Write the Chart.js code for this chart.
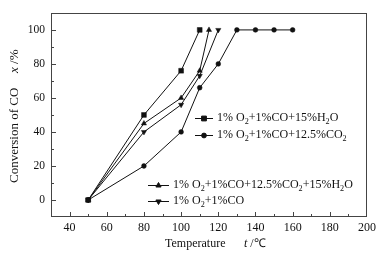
<!DOCTYPE html>
<html><head><meta charset="utf-8">
<script src="https://cdn.jsdelivr.net/npm/chart.js@4"></script>
<style>html,body{margin:0;padding:0;background:#fff}canvas{display:block}</style>
</head><body>
<canvas id="c" width="384" height="256"></canvas>
<script>
// ---- data ----
const labelH2O = "1% O_2+1%CO+15%H_2O";
const tempsH2O = [50, 80, 100, 110];
const convH2O  = [0, 50, 76, 100];

const labelCO2 = "1% O_2+1%CO+12.5%CO_2";
const tempsCO2 = [50, 80, 100, 110, 120, 130, 140, 150, 160];
const convCO2  = [0, 20, 40, 66, 80, 100, 100, 100, 100];

const labelMix = "1% O_2+1%CO+12.5%CO_2+15%H_2O";
const tempsMix = [50, 80, 100, 110, 115];
const convMix  = [0, 45, 60, 76, 100];

const labelDry = "1% O_2+1%CO";
const tempsDry = [50, 80, 100, 110, 120];
const convDry  = [0, 40, 56, 73, 100];

const xTicks = [40, 60, 80, 100, 120, 140, 160, 180, 200];
const yTicks = [0, 20, 40, 60, 80, 100];
const xTitle = ["Temperature", "t", " /℃"];
const yTitle = ["Conversion of CO", "x", " /%"];

const FONT = "'Liberation Serif','Times New Roman',serif";
const INK = '#111';

function pts(xs, ys) { return xs.map((x, i) => ({x, y: ys[i]})); }

const styles = {
  H2O: {pointStyle: 'rect', radius: 3.4, rotation: 0},
  CO2: {pointStyle: 'circle', radius: 2.4, rotation: 0},
  Mix: {pointStyle: 'triangle', radius: 3.0, rotation: 0},
  Dry: {pointStyle: 'triangle', radius: 3.0, rotation: 180}
};

function ds(label, xs, ys, st) {
  return {
    label, data: pts(xs, ys), showLine: true,
    borderColor: INK, backgroundColor: INK, borderWidth: 1,
    pointStyle: st.pointStyle, pointRadius: st.radius, pointRotation: st.rotation,
    pointBackgroundColor: INK, pointBorderColor: INK, pointBorderWidth: 0.5
  };
}

function drawRich(ctx, str, x, y, size) {
  const parts = str.split(/_(\w)/);
  let cx = x;
  parts.forEach((p, i) => {
    if (!p) return;
    const sub = i % 2 === 1;
    ctx.font = (sub ? size * 0.68 : size) + 'px ' + FONT;
    ctx.fillText(p, cx, sub ? y + size * 0.28 : y);
    cx += ctx.measureText(p).width;
  });
  return cx;
}

const legendItems = [
  {label: labelH2O, st: styles.H2O, x: 195, y: 118},
  {label: labelCO2, st: styles.CO2, x: 195, y: 135},
  {label: labelMix, st: styles.Mix, x: 148, y: 185},
  {label: labelDry, st: styles.Dry, x: 148, y: 201}
];

const deco = {
  id: 'deco',
  afterDraw(chart) {
    const {ctx, chartArea: a, scales: {x, y}} = chart;
    ctx.save();
    ctx.strokeStyle = '#444';
    ctx.lineWidth = 1;
    ctx.strokeRect(Math.round(a.left) + 0.5, Math.round(a.top) + 0.5,
                   Math.round(a.right - a.left) - 1, Math.round(a.bottom - a.top) - 1);
    // inward ticks
    ctx.beginPath();
    for (let v = 40; v < 200; v += 10) {
      const px = Math.round(x.getPixelForValue(v)) + 0.5;
      const len = v % 20 === 0 ? 5 : 3;
      ctx.moveTo(px, a.bottom); ctx.lineTo(px, a.bottom - len);
    }
    for (let v = 0; v < 110; v += 10) {
      const py = Math.round(y.getPixelForValue(v)) + 0.5;
      const len = v % 20 === 0 ? 5 : 3;
      ctx.moveTo(a.left, py); ctx.lineTo(a.left + len, py);
    }
    ctx.stroke();

    // legend
    ctx.fillStyle = INK; ctx.strokeStyle = INK;
    ctx.textBaseline = 'middle'; ctx.textAlign = 'left';
    const g1w = 18, g2w = 21;
    legendItems.forEach((it, k) => {
      const w = k < 2 ? g1w : g2w;
      ctx.beginPath();
      ctx.moveTo(it.x, it.y + 0.5); ctx.lineTo(it.x + w, it.y + 0.5);
      ctx.stroke();
      Chart.helpers.drawPoint(ctx, {pointStyle: it.st.pointStyle, rotation: it.st.rotation,
        radius: it.st.radius, borderWidth: 0.5}, it.x + w / 2, it.y + 0.5);
      ctx.fillStyle = INK;
      drawRich(ctx, it.label, it.x + w + 4, it.y, 12);
    });

    // x title
    ctx.textBaseline = 'middle';
    ctx.font = '12px ' + FONT;
    ctx.fillText(xTitle[0], 165, 244);
    ctx.font = 'italic 12px ' + FONT;
    ctx.fillText(xTitle[1], 244, 244);
    let tw = ctx.measureText(xTitle[1]).width;
    ctx.font = '12px ' + FONT;
    ctx.fillText(xTitle[2], 244 + tw, 244);

    // y title (rotated)
    ctx.translate(15, 183);
    ctx.rotate(-Math.PI / 2);
    ctx.font = '13px ' + FONT;
    ctx.fillText(yTitle[0], 0, 0);
    ctx.font = 'italic 13px ' + FONT;
    ctx.fillText(yTitle[1], 110, 0);
    tw = ctx.measureText(yTitle[1]).width;
    ctx.font = '13px ' + FONT;
    ctx.fillText(yTitle[2], 110 + tw, 0);
    ctx.restore();
  }
};

new Chart(document.getElementById('c'), {
  type: 'scatter',
  data: {
    datasets: [
      ds(labelH2O, tempsH2O, convH2O, styles.H2O),
      ds(labelCO2, tempsCO2, convCO2, styles.CO2),
      ds(labelMix, tempsMix, convMix, styles.Mix),
      ds(labelDry, tempsDry, convDry, styles.Dry)
    ]
  },
  options: {
    responsive: false, animation: false, devicePixelRatio: 1,
    layout: {padding: {left: 0, top: 8, right: 17, bottom: 0}},
    plugins: {legend: {display: false}, tooltip: {enabled: false}},
    elements: {line: {tension: 0}},
    scales: {
      x: {
        type: 'linear', min: 30, max: 200,
        afterBuildTicks: s => { s.ticks = xTicks.map(v => ({value: v})); },
        afterFit: s => { s.height = 39; },
        grid: {display: false, drawTicks: false}, border: {display: false},
        ticks: {font: {family: FONT, size: 12}, color: INK, padding: 4, maxRotation: 0, autoSkip: false}
      },
      y: {
        type: 'linear', min: -10, max: 110,
        afterBuildTicks: s => { s.ticks = yTicks.map(v => ({value: v})); },
        afterFit: s => { s.width = 51; },
        grid: {display: false, drawTicks: false}, border: {display: false},
        ticks: {font: {family: FONT, size: 11.5}, color: INK, padding: 6, autoSkip: false}
      }
    }
  },
  plugins: [deco]
});
</script>
</body></html>
